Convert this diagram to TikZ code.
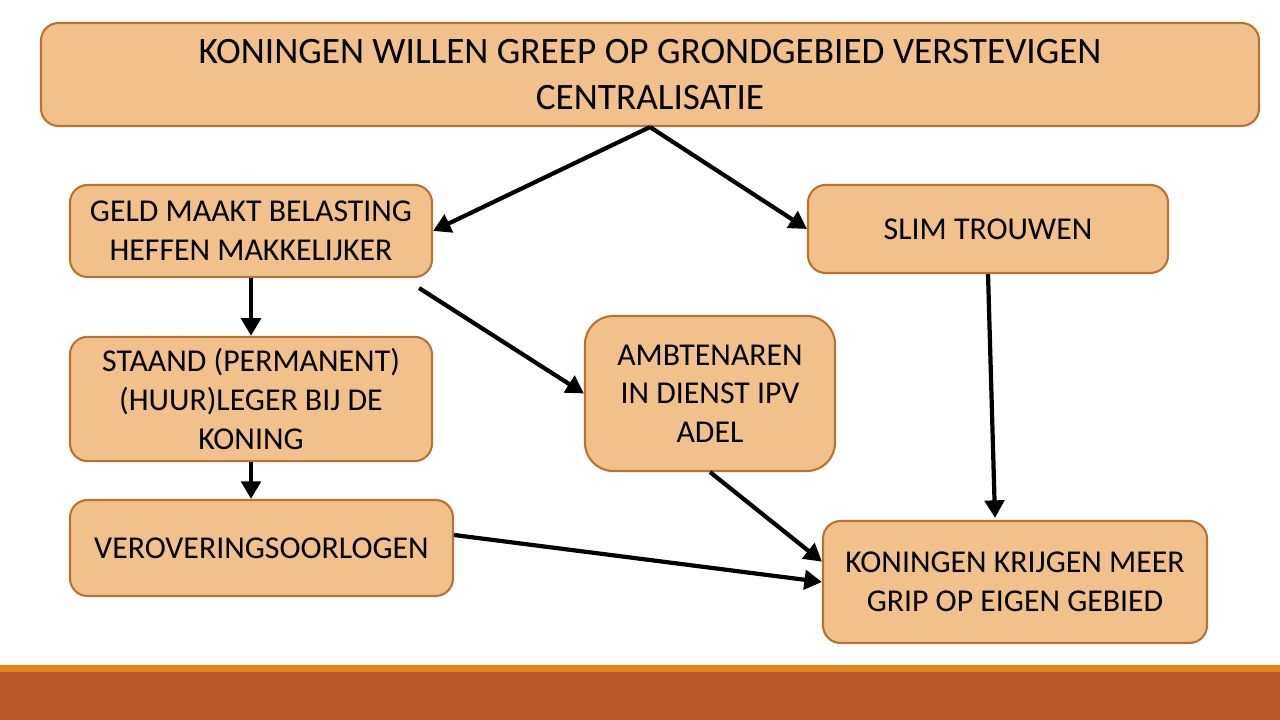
\documentclass[tikz,border=0pt]{standalone}
\usepackage{fontspec}
\setmainfont{Carlito}
\usetikzlibrary{arrows.meta,positioning,calc}
\definecolor{boxfill}{HTML}{F2C18B}
\definecolor{boxline}{HTML}{B8742F}
\definecolor{bandorange}{HTML}{E2861A}
\definecolor{bandrust}{HTML}{BC592B}

\begin{document}
\begin{tikzpicture}[
  >={Triangle[length=5pt,width=5.5pt]},
  stepbox/.style={draw=boxline, fill=boxfill, line width=0.6pt, rounded corners=5pt, align=center, font=\fontsize{9.05}{11}\selectfont},
  arr/.style={->, line width=1.2pt, color=black},
]
\useasboundingbox (0,0) rectangle (12.8,7.2);

% bottom bands
\fill[bandrust] (0,0) rectangle (12.8,0.48);
\fill[bandorange] (0,0.48) rectangle (12.8,0.55);

\node[stepbox, minimum width=12.18cm, minimum height=1.03cm, font=\fontsize{10.6}{13.2}\selectfont] (goal) at (6.5, 6.455) {KONINGEN WILLEN GREEP OP GRONDGEBIED VERSTEVIGEN\\CENTRALISATIE};

\node[stepbox, minimum width=3.62cm, minimum height=0.92cm] (geld) at (2.51, 4.89) {GELD MAAKT BELASTING\\HEFFEN MAKKELIJKER};
\node[stepbox, minimum width=3.6cm, minimum height=0.88cm] (trouwen) at (9.88, 4.91) {SLIM TROUWEN};
\node[stepbox, minimum width=3.62cm, minimum height=1.18cm] (leger) at (2.51, 3.21) {STAAND (PERMANENT)\\(HUUR)LEGER BIJ DE\\KONING};
\node[stepbox, minimum width=2.5cm, minimum height=1.55cm, rounded corners=8pt] (ambt) at (7.10, 3.265) {AMBTENAREN\\IN DIENST IPV\\ADEL};
\node[stepbox, minimum width=3.83cm, minimum height=0.96cm] (oorlog) at (2.615, 1.72) {VEROVERINGSOORLOGEN};
\node[stepbox, minimum width=3.84cm, minimum height=1.22cm] (grip) at (10.15, 1.38) {KONINGEN KRIJGEN MEER\\GRIP OP EIGEN GEBIED};

\draw[arr] (goal.south) -- (geld.east);
\draw[arr] (goal.south) -- (trouwen.west);
\draw[arr] (geld.south) -- (leger.north);
\draw[arr] ($(geld.south east)+(-0.14,-0.1)$) -- (ambt.west);
\draw[arr] (leger.south) -- (leger.south |- oorlog.north);
\draw[arr] ($(oorlog.east)+(0,0.13)$) -- (grip.west);
\draw[arr] (ambt.south) -- (grip.174);
\draw[arr] (trouwen.south) -- ($(trouwen.south |- grip.north)+(0.07,0.02)$);

\end{tikzpicture}
\end{document}
